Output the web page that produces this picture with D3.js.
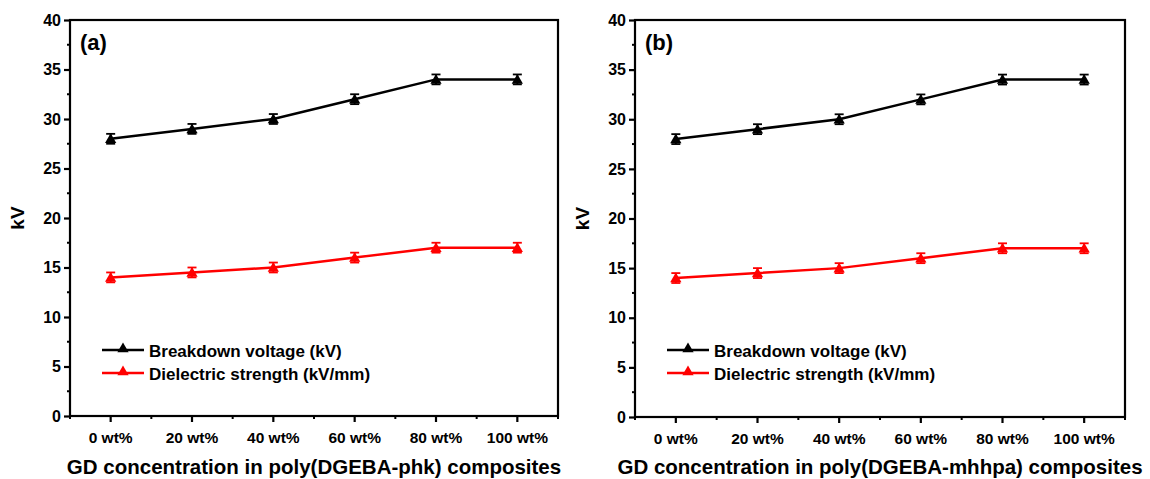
<!DOCTYPE html>
<html>
<head>
<meta charset="utf-8">
<script src="https://cdn.jsdelivr.net/npm/d3@7"></script>
<style>
  body { margin: 0; background: #fff; }
  svg { display: block; }
</style>
</head>
<body>
<svg id="chart" width="1150" height="479"></svg>
<script>
// donnees
const categories = ['0 wt%', '20 wt%', '40 wt%', '60 wt%', '80 wt%', '100 wt%']
const breakdown = [28, 29, 30, 32, 34, 34]
const breakdownErr = [0.5, 0.5, 0.5, 0.5, 0.5, 0.5]
const dielectric = [14, 14.5, 15, 16, 17, 17]
const dielectricErr = [0.5, 0.5, 0.5, 0.5, 0.5, 0.5]
const yTicks = [0, 5, 10, 15, 20, 25, 30, 35, 40]
const panelLabels = ['(a)', '(b)']
const xTitles = ['GD concentration in poly(DGEBA-phk) composites', 'GD concentration in poly(DGEBA-mhhpa) composites']
const legendLabels = ['Breakdown voltage (kV)', 'Dielectric strength (kV/mm)']

const POLICE = 'Liberation Sans, Arial, sans-serif'
const series = [
    { values: breakdown, err: breakdownErr, color: 'black' },
    { values: dielectric, err: dielectricErr, color: '#ff0000' }
]

const svg = d3.select('#chart')

//Dessiner un panneau
function placePanel(left, right, top, bottom, idx) {
    const g = svg.append('g')

    const x = d3.scaleBand().domain(categories).range([left, right])
    const y = d3.scaleLinear().domain([0, 40]).range([bottom, top])

    //cadre
    g.append('rect').attr('x', left).attr('y', top).attr('width', right - left).attr('height', bottom - top)
        .attr('fill', 'none').attr('stroke', 'black').attr('stroke-width', 2.2)

    //axe y
    const yAxis = g.append('g').attr('transform', 'translate(' + left + ',0)')
        .call(d3.axisLeft(y).tickValues(yTicks).tickSize(6).tickPadding(3))
    yAxis.select('.domain').remove()
    yAxis.selectAll('line').attr('stroke-width', 2.2)
    yAxis.selectAll('text').attr('font-family', POLICE).attr('font-weight', 'bold').attr('font-size', 16).attr('fill', 'black')

    //ticks mineurs y
    const yMinor = d3.range(2.5, 40, 5)
    g.selectAll('.yminor').data(yMinor).enter().append('line')
        .attr('x1', left).attr('x2', left - 3).attr('y1', d => y(d)).attr('y2', d => y(d))
        .attr('stroke', 'black').attr('stroke-width', 2)

    //axe x
    const xAxis = g.append('g').attr('transform', 'translate(0,' + bottom + ')')
        .call(d3.axisBottom(x).tickSize(6).tickPadding(10))
    xAxis.select('.domain').remove()
    xAxis.selectAll('line').attr('stroke-width', 2.2)
    xAxis.selectAll('text').attr('font-family', POLICE).attr('font-weight', 'bold').attr('font-size', 15.5).attr('fill', 'black')

    //ticks mineurs x (bords des bandes)
    const bords = categories.map(c => x(c)).concat([right])
    g.selectAll('.xminor').data(bords).enter().append('line')
        .attr('x1', d => d).attr('x2', d => d).attr('y1', bottom).attr('y2', bottom + 3)
        .attr('stroke', 'black').attr('stroke-width', 2)

    const cx = c => x(c) + x.bandwidth() / 2
    const tri = d3.symbol().type(d3.symbolTriangle).size(55)

    series.forEach(s => {
        const line = d3.line().x((d, i) => cx(categories[i])).y(d => y(d))
        g.append('path').datum(s.values).attr('d', line)
            .attr('fill', 'none').attr('stroke', s.color).attr('stroke-width', 2.5)

        //barres d'erreur
        s.values.forEach((v, i) => {
            const px = cx(categories[i])
            const y1 = y(v + s.err[i]), y2 = y(v - s.err[i])
            g.append('line').attr('x1', px).attr('x2', px).attr('y1', y1).attr('y2', y2).attr('stroke', s.color).attr('stroke-width', 1.8)
            g.append('line').attr('x1', px - 4.5).attr('x2', px + 4.5).attr('y1', y1).attr('y2', y1).attr('stroke', s.color).attr('stroke-width', 1.8)
            g.append('line').attr('x1', px - 4.5).attr('x2', px + 4.5).attr('y1', y2).attr('y2', y2).attr('stroke', s.color).attr('stroke-width', 1.8)
            g.append('path').attr('d', tri).attr('transform', 'translate(' + px + ',' + (y(v) + 1) + ')').attr('fill', s.color)
        })
    })

    //label du panneau
    g.append('text').text(panelLabels[idx]).attr('x', left + 10).attr('y', top + 30)
        .attr('font-family', POLICE).attr('font-weight', 'bold').attr('font-size', 22)

    //legende
    legendLabels.forEach((lab, i) => {
        const ly = 350 + i * 23
        const lx = left + 32
        g.append('line').attr('x1', lx).attr('x2', lx + 42).attr('y1', ly).attr('y2', ly).attr('stroke', series[i].color).attr('stroke-width', 2.5)
        g.append('path').attr('d', tri).attr('transform', 'translate(' + (lx + 21) + ',' + (ly - 1) + ')').attr('fill', series[i].color)
        g.append('text').text(lab).attr('x', lx + 47).attr('y', ly + 6.5)
            .attr('font-family', POLICE).attr('font-weight', 'bold').attr('font-size', 17)
    })

    //titre x
    g.append('text').text(xTitles[idx]).attr('x', (left + right) / 2).attr('y', 474)
        .attr('text-anchor', 'middle').attr('font-family', POLICE).attr('font-weight', 'bold').attr('font-size', 20.5)

    //titre y
    g.append('text').text('kV').attr('transform', 'translate(' + (left - 46) + ',' + ((top + bottom) / 2) + ')rotate(-90)')
        .attr('text-anchor', 'middle').attr('font-family', POLICE).attr('font-weight', 'bold').attr('font-size', 19)
}

placePanel(70, 558, 20, 416, 0)
placePanel(635, 1125, 20, 417, 1)
</script>
</body>
</html>
